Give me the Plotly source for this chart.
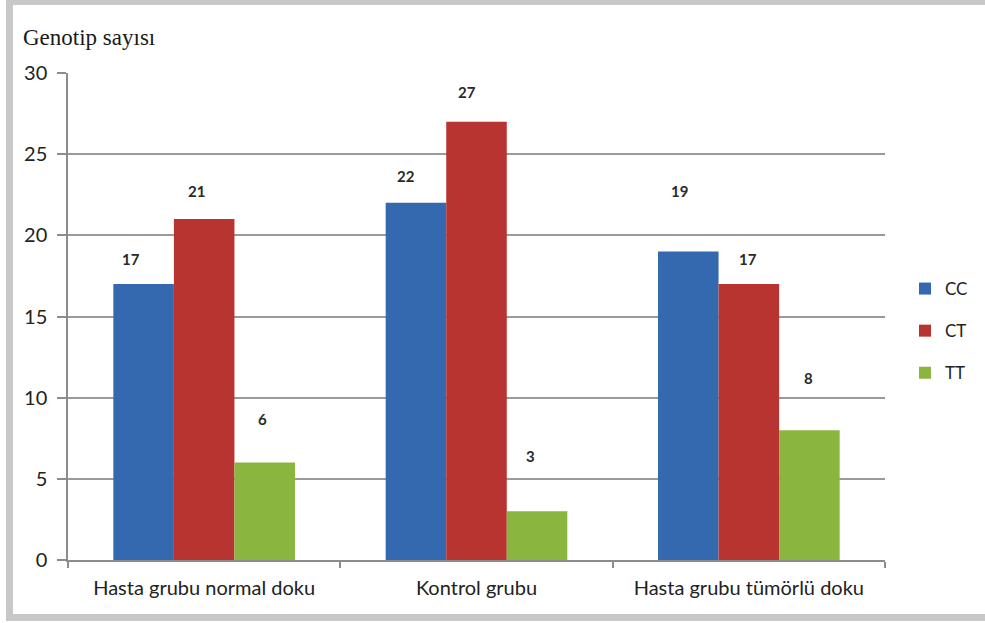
import plotly.graph_objects as go

categories = ["Hasta grubu normal doku", "Kontrol grubu", "Hasta grubu tümörlü doku"]
series_names = ["CC", "CT", "TT"]
cc_values = [17, 22, 19]
ct_values = [21, 27, 17]
tt_values = [6, 3, 8]
y_tick_values = [0, 5, 10, 15, 20, 25, 30]
y_title = "Genotip sayısı"

series_values = [cc_values, ct_values, tt_values]
series_colors = ["#3569af", "#b83430", "#8ab63f"]

# label offsets (pixels) relative to the bar top, as in the reference
label_xshift = [[-13, -10, -9], [-8, -10, -1], [-2, -7, -1]]
label_yshift = [[25, 27, 61], [28, 30, 25], [44, 55, 52]]

W, H = 985, 623
L, R, T, B = 68, 100, 73, 63
PW, PH = W - L - R, H - T - B


def px_x(px):
    return (px - L) / PW


def px_y(py):
    return (H - B - py) / PH


bargap = 0.333
bar_w = (1 - bargap) / 3

fig = go.Figure()
for i, (name, vals, col) in enumerate(zip(series_names, series_values, series_colors)):
    fig.add_trace(go.Bar(
        x=categories, y=vals, name=name,
        marker=dict(color=col, line=dict(width=0)),
        legendgroup=name,
    ))

annotations = []
for i, vals in enumerate(series_values):
    for j, v in enumerate(vals):
        annotations.append(dict(
            x=j + (i - 1) * bar_w, y=v, xref="x", yref="y",
            text=str(v), showarrow=False,
            xshift=label_xshift[i][j], yshift=label_yshift[i][j],
            yanchor="middle", xanchor="center",
            font=dict(family="Lato, Liberation Sans, sans-serif", size=15, color="#2a2a2a", weight="bold"),
        ))

annotations.append(dict(
    x=px_x(21), y=px_y(38), xref="paper", yref="paper",
    text=y_title, showarrow=False, xanchor="left", yanchor="middle",
    font=dict(family="Liberation Serif, serif", size=23, color="#1a1a1a"),
))

shapes = [dict(
    type="rect", xref="paper", yref="paper",
    x0=px_x(9.5), x1=px_x(992), y0=px_y(617.5), y1=px_y(1.5),
    line=dict(color="#c8c8c8", width=7), layer="below",
)]

fig.update_layout(
    width=W, height=H,
    margin=dict(l=L, r=R, t=T, b=B, pad=0, autoexpand=False),
    paper_bgcolor="white", plot_bgcolor="white",
    barmode="group", bargap=bargap, bargroupgap=0,
    showlegend=True,
    legend=dict(
        x=px_x(905), y=px_y(331), xanchor="left", yanchor="middle",
        font=dict(family="Lato, Liberation Sans, sans-serif", size=17, color="#222222"),
        tracegroupgap=17, traceorder="grouped",
        itemwidth=30, bgcolor="rgba(0,0,0,0)",
    ),
    annotations=annotations,
    shapes=shapes,
    font=dict(family="Lato, Liberation Sans, sans-serif", color="#222222"),
)

fig.update_yaxes(
    range=[0, 30], tickvals=y_tick_values, ticks="outside", ticklen=9,
    tickcolor="#8c8c8c", tickwidth=1.5,
    showline=True, linecolor="#8c8c8c", linewidth=1.5,
    showgrid=True, gridcolor="#9a9a9a", gridwidth=1.5,
    zeroline=False,
    tickfont=dict(family="Lato, Liberation Sans, sans-serif", size=20, color="#222222"),
    ticklabelstandoff=6,
)
fig.update_xaxes(
    ticks="outside", tickson="boundaries", ticklen=6,
    tickcolor="#8c8c8c", tickwidth=1.5,
    showline=True, linecolor="#8c8c8c", linewidth=1.5,
    tickfont=dict(family="Lato, Liberation Sans, sans-serif", size=20, color="#222222"),
    ticklabelstandoff=9,
)

fig.write_html("out.html")
